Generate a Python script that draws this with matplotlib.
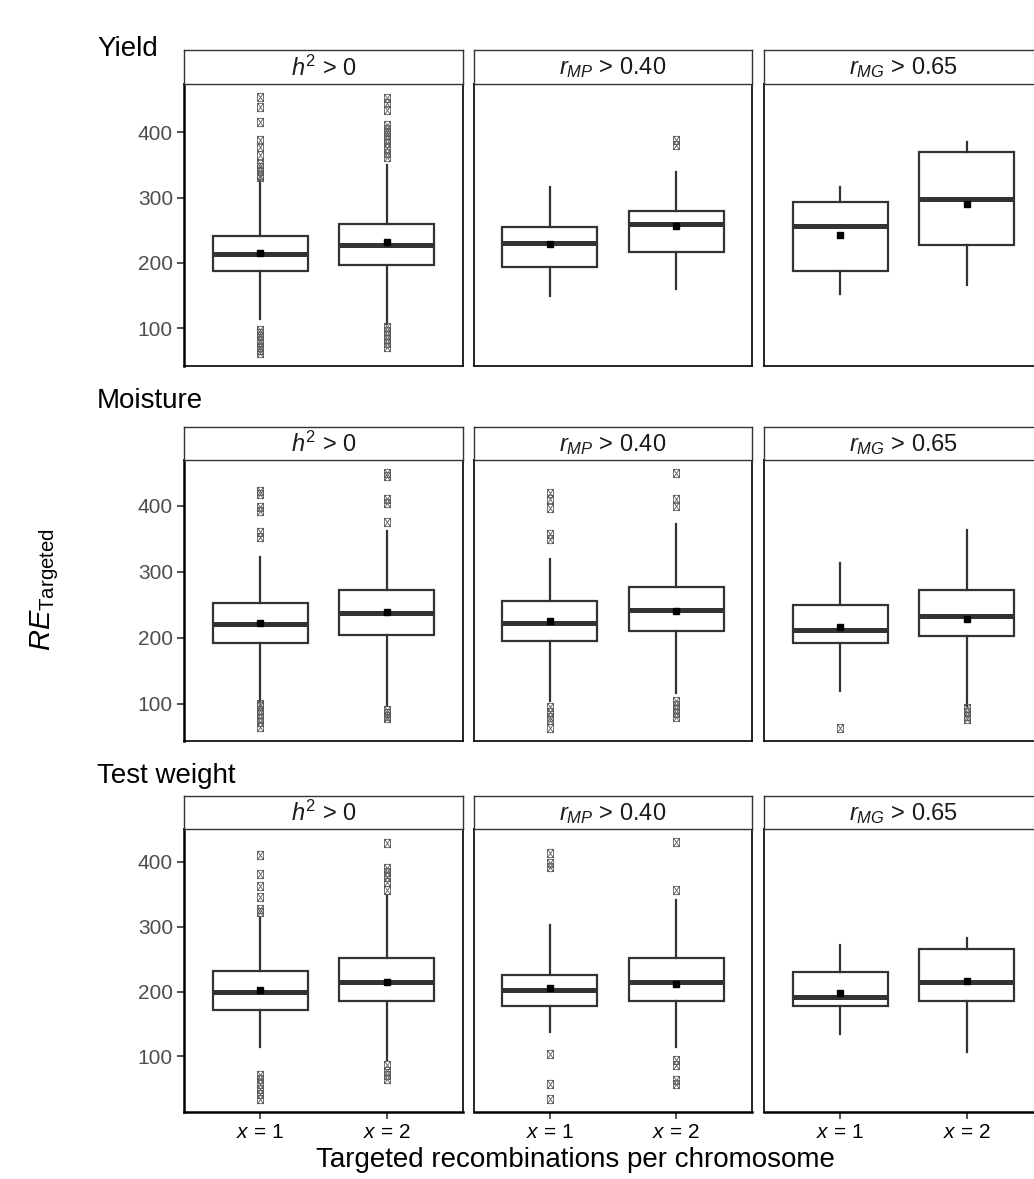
import matplotlib
matplotlib.use("Agg")
import matplotlib.pyplot as plt
from matplotlib.path import Path

plt.rcParams["font.family"] = ["Liberation Sans", "DejaVu Sans"]
plt.rcParams["mathtext.fontset"] = "custom"
plt.rcParams["mathtext.rm"] = "Liberation Sans"
plt.rcParams["mathtext.it"] = "Liberation Sans:italic"
plt.rcParams["mathtext.bf"] = "Liberation Sans:bold"

# ---------------------------------------------------------------- data
traits = ["Yield", "Moisture", "Test weight"]
subsets = [r"$h^2$ > 0", r"$r_{MP}$ > 0.40", r"$r_{MG}$ > 0.65"]
x_labels = [r"$x$ = 1", r"$x$ = 2"]
y_ticks = [100, 200, 300, 400]

# order within each trait: (h2, x=1), (h2, x=2), (rMP, x=1), (rMP, x=2), (rMG, x=1), (rMG, x=2)
yield_q1 = [187, 197, 194, 217, 188, 227]
yield_med = [213, 227, 231, 260, 257, 298]
yield_q3 = [241, 260, 255, 279, 293, 369]
yield_lo = [114, 106, 150, 160, 152, 167]
yield_hi = [326, 349, 316, 339, 316, 385]
yield_mean = [215, 232, 229, 257, 242, 290]
yield_out = [
    [454, 439, 416, 388, 377, 365, 352, 346, 340, 335, 331, 98, 93, 88, 82, 77, 72, 67, 62],
    [452, 445, 434, 411, 405, 400, 395, 390, 383, 375, 368, 362, 102, 96, 90, 84, 78, 72],
    [],
    [380, 388],
    [],
    [],
]

moist_q1 = [192, 204, 195, 210, 192, 202]
moist_med = [221, 238, 222, 242, 212, 233]
moist_q3 = [253, 272, 255, 277, 250, 272]
moist_lo = [105, 96, 105, 117, 120, 97]
moist_hi = [322, 362, 320, 372, 313, 363]
moist_mean = [222, 239, 226, 240, 216, 228]
moist_out = [
    [423, 418, 398, 392, 360, 352, 100, 96, 90, 84, 78, 72, 65],
    [450, 445, 410, 404, 375, 91, 86, 82, 78],
    [420, 410, 397, 358, 350, 95, 88, 80, 75, 64],
    [450, 410, 400, 104, 98, 92, 86, 80],
    [63],
    [94, 88, 82, 77],
]

tw_q1 = [172, 186, 178, 185, 178, 185]
tw_med = [200, 214, 202, 214, 192, 214]
tw_q3 = [231, 252, 226, 252, 230, 265]
tw_lo = [114, 95, 138, 114, 134, 106]
tw_hi = [315, 349, 303, 342, 272, 283]
tw_mean = [203, 215, 206, 211, 198, 217]
tw_out = [
    [411, 382, 363, 346, 328, 323, 72, 65, 57, 49, 42, 34],
    [429, 391, 385, 377, 369, 357, 86, 78, 72, 65],
    [414, 398, 392, 103, 57, 34],
    [431, 357, 95, 86, 63, 57],
    [],
    [],
]

rows = [
    (yield_q1, yield_med, yield_q3, yield_lo, yield_hi, yield_mean, yield_out),
    (moist_q1, moist_med, moist_q3, moist_lo, moist_hi, moist_mean, moist_out),
    (tw_q1, tw_med, tw_q3, tw_lo, tw_hi, tw_mean, tw_out),
]

# ---------------------------------------------------------------- layout (pixels)
W, H = 1034, 1179
fig = plt.figure(figsize=(W / 100, H / 100), dpi=100)

col_x = [(184, 463), (474, 752), (764, 1043)]
row_y = [  # strip top, panel top, panel bottom
    (50, 84, 366),
    (427, 460, 741),
    (796, 829, 1112),
]
title_base = [56, 408, 783]


def px_axes(x0, y0, x1, y1):
    return fig.add_axes([x0 / W, 1 - y1 / H, (x1 - x0) / W, (y1 - y0) / H])


# marker: square with a cross inside
box_cross = Path(
    [(-0.7, -1), (0.7, -1), (0.7, 1), (-0.7, 1), (-0.7, -1),
     (-0.7, -1), (0.7, 1), (-0.7, 1), (0.7, -1)],
    [Path.MOVETO, Path.LINETO, Path.LINETO, Path.LINETO, Path.CLOSEPOLY,
     Path.MOVETO, Path.LINETO, Path.MOVETO, Path.LINETO],
)

box_col = "#333333"
tick_col = "#4D4D4D"

for r, (q1, med, q3, lo, hi, mean, out) in enumerate(rows):
    s_top, p_top, p_bot = row_y[r]
    all_vals = lo + hi + [v for o in out for v in o]
    vmin, vmax = min(all_vals), max(all_vals)
    pad = 0.05 * (vmax - vmin)
    ylim = (vmin - pad, vmax + pad)

    fig.text(97 / W, 1 - title_base[r] / H, traits[r], fontsize=20,
             ha="left", va="baseline", color="black")

    for c in range(3):
        x0, x1 = col_x[c]
        ax = px_axes(x0, p_top, x1, p_bot)
        stats = []
        for k in range(2):
            i = 2 * c + k
            stats.append(dict(med=med[i], q1=q1[i], q3=q3[i], whislo=lo[i],
                              whishi=hi[i], mean=mean[i], fliers=out[i]))
        ax.bxp(
            stats, positions=[1, 2], widths=0.75, showmeans=True, showcaps=False,
            patch_artist=True,
            boxprops=dict(facecolor="white", edgecolor=box_col, linewidth=1.6),
            medianprops=dict(color=box_col, linewidth=3.6, solid_capstyle="butt"),
            whiskerprops=dict(color=box_col, linewidth=1.6),
            flierprops=dict(marker=box_cross, markersize=6, markerfacecolor="none",
                            markeredgecolor="#5A5A5A", markeredgewidth=0.6,
                            linestyle="none"),
            meanprops=dict(marker="s", markersize=5, markerfacecolor="black",
                           markeredgecolor="black"),
        )
        ax.set_xlim(0.4, 2.6)
        ax.set_ylim(*ylim)
        for sp in ax.spines.values():
            sp.set_color("black")
            sp.set_linewidth(1.2)
        if c == 0:
            ax.spines["left"].set_linewidth(1.8)
            ax.set_yticks(y_ticks)
            ax.set_yticklabels([str(v) for v in y_ticks])
            ax.tick_params(axis="y", length=5, width=1.2, color=box_col,
                           labelsize=15, labelcolor=tick_col, pad=3)
        else:
            ax.set_yticks([])
        if r == 2:
            ax.spines["bottom"].set_linewidth(1.8)
            ax.set_xticks([1, 2])
            ax.set_xticklabels(x_labels)
            ax.tick_params(axis="x", length=5, width=1.2, color=box_col,
                           labelsize=15, labelcolor="black", pad=3)
        else:
            ax.set_xticks([])

        sax = px_axes(x0, s_top, x1, p_top)
        sax.set_xticks([])
        sax.set_yticks([])
        for sp in sax.spines.values():
            sp.set_color("#333333")
            sp.set_linewidth(1.0)
        sax.text(0.5, 0.47, subsets[c], transform=sax.transAxes, ha="center",
                 va="center", fontsize=17, color="#1A1A1A")

fig.text(575 / W, 1 - 1160 / H, "Targeted recombinations per chromosome",
         ha="center", va="center", fontsize=20)
fig.text(45 / W, 1 - 590 / H, r"$RE_{\mathrm{Targeted}}$", rotation=90,
         ha="center", va="center", fontsize=21)

fig.savefig("out.png", dpi=100)
